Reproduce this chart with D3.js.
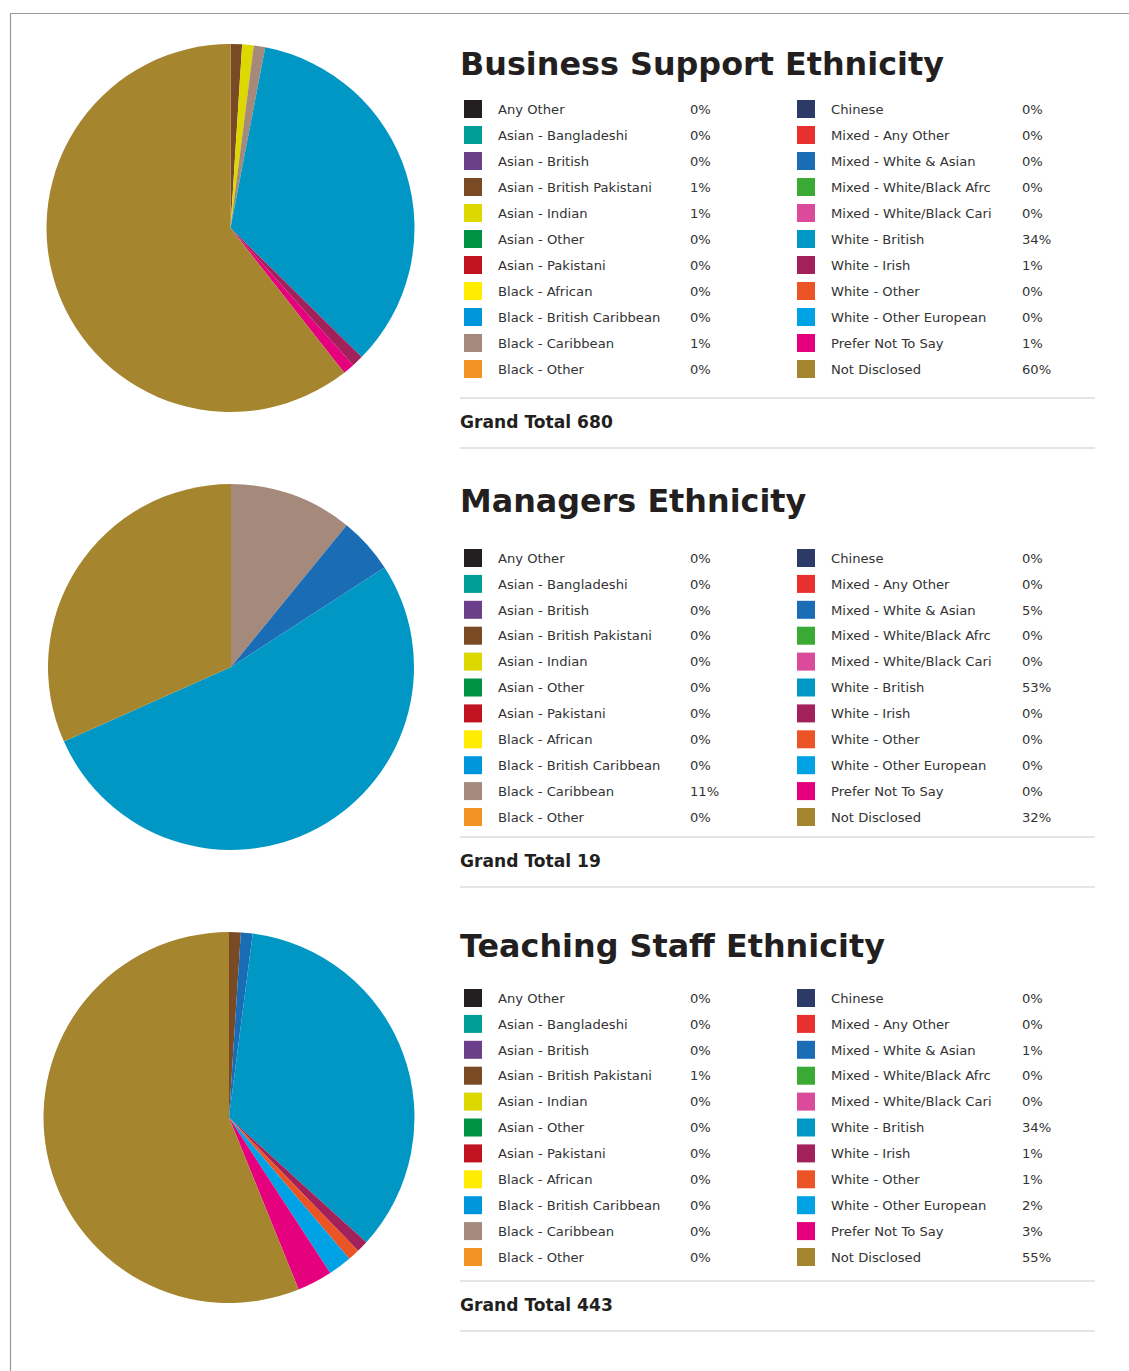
<!DOCTYPE html>
<html>
<head>
<meta charset="utf-8">
<script src="https://cdn.jsdelivr.net/npm/d3@7"></script>
<style>
  html, body { margin: 0; padding: 0; background: #fff; }
  svg { display: block; }
</style>
</head>
<body>
<div id="chart"></div>
<script>
// ---------- DATA ----------
const categories = [
  "Any Other", "Asian - Bangladeshi", "Asian - British", "Asian - British Pakistani",
  "Asian - Indian", "Asian - Other", "Asian - Pakistani", "Black - African",
  "Black - British Caribbean", "Black - Caribbean", "Black - Other",
  "Chinese", "Mixed - Any Other", "Mixed - White & Asian", "Mixed - White/Black Afrc",
  "Mixed - White/Black Cari", "White - British", "White - Irish", "White - Other",
  "White - Other European", "Prefer Not To Say", "Not Disclosed"
];
const categoryColors = [
  "#231f20", "#009e96", "#6c3f8b", "#7a4a24",
  "#dcd800", "#009245", "#c1121f", "#ffec00",
  "#0096dc", "#a58a7b", "#f29222",
  "#2b3a67", "#e8312e", "#1a6db5", "#3aaa35",
  "#dc4b9b", "#0097c4", "#a2215a", "#eb5424",
  "#00a2e6", "#e5007e", "#a6852f"
];
const sectionTitles = ["Business Support Ethnicity", "Managers Ethnicity", "Teaching Staff Ethnicity"];
const grandTotals = [680, 19, 443];
const businessSupport = [0, 0, 0, 1, 1, 0, 0, 0, 0, 1, 0,  0, 0, 0, 0, 0, 34, 1, 0, 0, 1, 60];
const managers        = [0, 0, 0, 0, 0, 0, 0, 0, 0, 11, 0, 0, 0, 5, 0, 0, 53, 0, 0, 0, 0, 32];
const teachingStaff   = [0, 0, 0, 1, 0, 0, 0, 0, 0, 0, 0,  0, 0, 1, 0, 0, 34, 1, 1, 2, 3, 55];
const seriesValues = [businessSupport, managers, teachingStaff];

// ---------- LAYOUT ----------
const W = 1129, H = 1371;
const layout = [
  { cx: 230.5, cy: 228,    r: 184,   titleY: 75,  row0: 109, rowStep: 26,   line1: 398,  totalY: 422,  line2: 448 },
  { cx: 231,   cy: 667,    r: 183,   titleY: 512, row0: 558, rowStep: 25.9, line1: 837,  totalY: 861,  line2: 887 },
  { cx: 229,   cy: 1117.5, r: 185.5, titleY: 957, row0: 998, rowStep: 25.9, line1: 1281, totalY: 1305, line2: 1331 }
];
const col1 = { sw: 464, label: 498, pct: 690 };
const col2 = { sw: 797, label: 831, pct: 1022 };
const lineX0 = 460, lineX1 = 1095;
const FONT = "'DejaVu Sans', sans-serif";

const svg = d3.select("#chart").append("svg").attr("width", W).attr("height", H);

// frame
svg.append("line").attr("x1", 10).attr("x2", W).attr("y1", 13.5).attr("y2", 13.5)
  .attr("stroke", "#9a9a9a").attr("stroke-width", 1.2);
svg.append("line").attr("x1", 10.5).attr("x2", 10.5).attr("y1", 13).attr("y2", H)
  .attr("stroke", "#9a9a9a").attr("stroke-width", 1.2);

// font sizing by measurement
function fitSize(text, weight, targetW, base) {
  const t = svg.append("text").attr("font-family", FONT).attr("font-weight", weight)
    .attr("font-size", base).text(text);
  const w = t.node().getComputedTextLength();
  t.remove();
  return base * targetW / w;
}
const titleSize = fitSize("Business Support Ethnicity", "bold", 484, 40);
const legendSize = fitSize("Asian - British Pakistani", "normal", 154, 15);
const totalSize = fitSize("Grand Total 680", "bold", 153, 19);

const color = d3.scaleOrdinal().domain(categories).range(categoryColors);
const pie = d3.pie().sort(null).value(d => d.v);

seriesValues.forEach((vals, s) => {
  const L = layout[s];
  const g = svg.append("g");
  const data = categories.map((c, i) => ({ c, v: vals[i] }));

  // pie
  const arc = d3.arc().innerRadius(0).outerRadius(L.r);
  g.append("g").attr("transform", `translate(${L.cx},${L.cy})`)
    .selectAll("path").data(pie(data).filter(d => d.data.v > 0)).join("path")
    .attr("d", arc).attr("fill", d => color(d.data.c));

  // title
  g.append("text").attr("x", 460).attr("y", L.titleY)
    .attr("font-family", FONT).attr("font-weight", "bold").attr("font-size", titleSize)
    .attr("fill", "#231f20").text(sectionTitles[s]);

  // legend
  const rows = g.selectAll("g.row").data(data).join("g").attr("class", "row")
    .attr("transform", (d, i) => `translate(0,${L.row0 + (i % 11) * L.rowStep})`);
  rows.append("rect")
    .attr("x", (d, i) => (i < 11 ? col1 : col2).sw).attr("y", -9)
    .attr("width", 18).attr("height", 18)
    .attr("fill", d => color(d.c));
  rows.append("text")
    .attr("x", (d, i) => (i < 11 ? col1 : col2).label).attr("y", 0).attr("dy", "0.36em")
    .attr("font-family", FONT).attr("font-size", legendSize).attr("fill", "#333")
    .text(d => d.c);
  rows.append("text")
    .attr("x", (d, i) => (i < 11 ? col1 : col2).pct).attr("y", 0).attr("dy", "0.36em")
    .attr("font-family", FONT).attr("font-size", legendSize).attr("fill", "#333")
    .text(d => d.v + "%");

  // separators and total
  [L.line1, L.line2].forEach(y => {
    g.append("line").attr("x1", lineX0).attr("x2", lineX1).attr("y1", y).attr("y2", y)
      .attr("stroke", "#dcdcdc").attr("stroke-width", 1.5);
  });
  g.append("text").attr("x", 460).attr("y", L.totalY).attr("dy", "0.36em")
    .attr("font-family", FONT).attr("font-weight", "bold").attr("font-size", totalSize)
    .attr("fill", "#231f20").text("Grand Total " + grandTotals[s]);
});
</script>
</body>
</html>
